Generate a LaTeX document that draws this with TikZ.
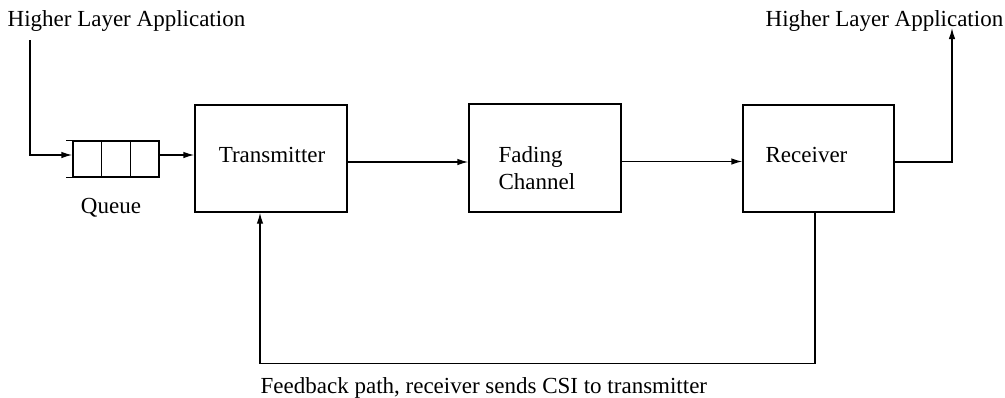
\documentclass[tikz,border=0pt]{standalone}
\usepackage{fontspec}
\setmainfont{Liberation Serif}
\usetikzlibrary{arrows.meta,calc}
\begin{document}
\begin{tikzpicture}[x=1pt,y=-1pt,
  font=\fontsize{23}{27}\selectfont,
  line width=1.3pt,
  >={Latex[length=11pt,width=6.5pt]},
  blk/.style={draw, inner sep=0pt},
  lbl/.style={inner sep=0pt}]
\useasboundingbox (0,0) rectangle (1005,397);

% boxes
\node[blk, minimum width=152pt, minimum height=107pt] (tx) at (271,158.5) {};
\node[blk, minimum width=152pt, minimum height=108pt] (fc) at (545,158) {};
\node[blk, minimum width=151pt, minimum height=107pt] (rx) at (818.5,158.5) {};
\node[blk, minimum width=86pt, minimum height=36pt] (queue) at (116,159) {};

% queue details
\draw ($(queue.north west)!1/3!(queue.north east)$) -- ($(queue.south west)!1/3!(queue.south east)$);
\draw ($(queue.north west)!2/3!(queue.north east)$) -- ($(queue.south west)!2/3!(queue.south east)$);
\draw (queue.north west) -- ++(-6,0);
\draw (queue.south west) -- ++(-6,0);

% labels
\node[lbl, anchor=base west] (hlin) at (7,26.7) {Higher Layer Application};
\node[lbl, anchor=base west] (hlout) at (765,26.7) {Higher Layer Application};
\node[lbl, anchor=base] (ql) at (111,213) {Queue};
\node[lbl, anchor=base] (txl) at (272,162) {Transmitter};
\node[lbl, anchor=base west] (fcl1) at (498,162) {Fading};
\node[lbl, anchor=base west] (fcl2) at (498,189) {Channel};
\node[lbl, anchor=base west] (rxl) at (765,162) {Receiver};
\node[lbl, anchor=base west] (fbl) at (260,393) {Feedback path, receiver sends CSI to transmitter};

% connectors
\coordinate (src) at (30,40);
\coordinate (dst) at (952,28);
\draw[->] (src) |- ([yshift=4pt]queue.west);
\draw[->] ([yshift=4pt]queue.east) -- ([yshift=4pt]queue.east -| tx.west);
\draw[->] ([yshift=-3.5pt]tx.east) -- ([yshift=-3.5pt]tx.east -| fc.west);
\draw[->] ([yshift=-3.5pt]fc.east) -- ([yshift=-3.5pt]fc.east -| rx.west);
\draw[->] ([yshift=-3.5pt]rx.east) -| (dst);
\draw[->] ([xshift=-3.5pt]rx.south) -- ++(0,151) -| ([xshift=-11pt]tx.south);
\end{tikzpicture}
\end{document}
